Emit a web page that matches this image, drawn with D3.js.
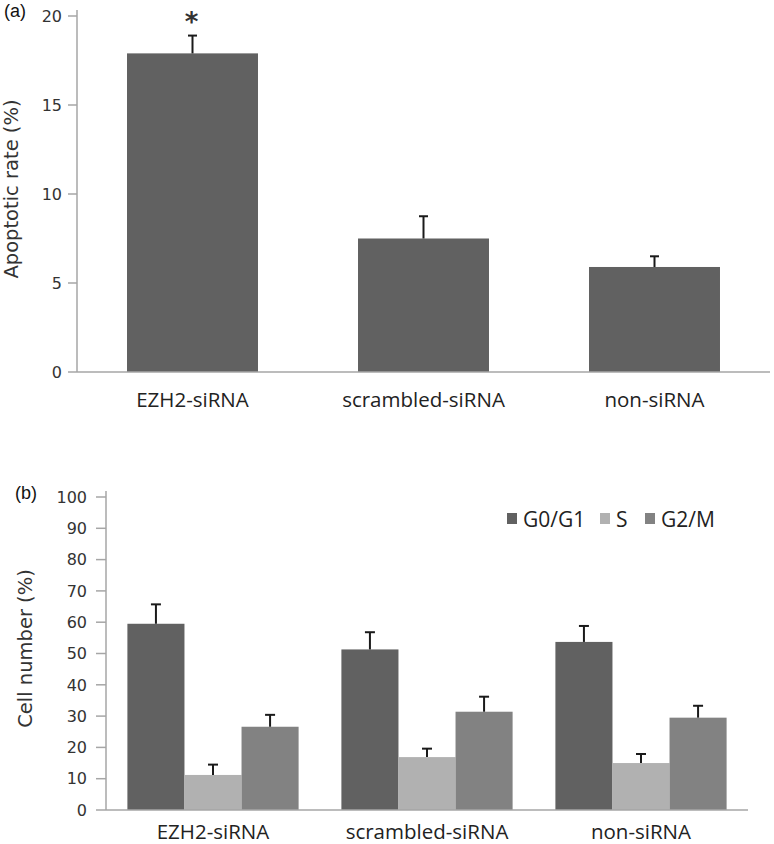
<!DOCTYPE html>
<html><head><meta charset="utf-8">
<script src="https://cdn.jsdelivr.net/npm/d3@7"></script>
<style>body{margin:0;background:#fff}svg{display:block}</style>
</head><body>
<svg id="c" width="774" height="844"></svg>
<script>
// ---- Data ----
const categories = ["EZH2-siRNA", "scrambled-siRNA", "non-siRNA"];
// Panel (a)
const apoptoticRate = [17.9, 7.5, 5.9];
const apoptoticErr  = [1.0, 1.25, 0.6];
const aTicks = [0, 5, 10, 15, 20];
// Panel (b)
const phases = ["G0/G1", "S", "G2/M"];
const g0g1 = [59.5, 51.3, 53.7];
const sPhase = [11.2, 16.9, 15.0];
const g2m = [26.6, 31.4, 29.5];
const g0g1Err = [6.2, 5.5, 5.1];
const sErr = [3.3, 2.7, 2.9];
const g2mErr = [3.8, 4.8, 3.8];
const bTicks = [0,10,20,30,40,50,60,70,80,90,100];

const phaseColors = ["#616161", "#b1b1b1", "#828282"];
const axisColor = "#a6a6a6";
const tickFont = "DejaVu Sans, Verdana, sans-serif";
const labelFont = "Open Sans, Noto Sans, sans-serif";

const svg = d3.select("#c");

// ================= Panel (a) =================
{
  const x0 = 77, x1 = 770, yb = 372, yt = 16;
  const x = d3.scaleBand().domain(categories).range([x0, x1]).paddingInner(0.433).paddingOuter(0.2165);
  const y = d3.scaleLinear().domain([0, 20]).range([yb, yt]);
  const g = svg.append("g");
  g.append("line").attr("x1", x0).attr("x2", x0).attr("y1", yt - 6).attr("y2", yb).attr("stroke", axisColor).attr("stroke-width", 1.5);
  g.selectAll(".yt").data(aTicks).join("line").attr("x1", x0 - 9).attr("x2", x0).attr("y1", d => y(d)).attr("y2", d => y(d)).attr("stroke", axisColor).attr("stroke-width", 1.5);
  g.selectAll(".yl").data(aTicks).join("text").attr("x", x0 - 15).attr("y", d => y(d)).attr("dy", "0.36em")
    .attr("text-anchor", "end").attr("font-family", tickFont).attr("font-size", 16).attr("fill", "#333").text(d => d);
  g.selectAll(".bar").data(apoptoticRate).join("rect")
    .attr("x", (d, i) => x(categories[i])).attr("width", x.bandwidth())
    .attr("y", d => y(d)).attr("height", d => yb - y(d)).attr("fill", "#616161");
  const cx = i => x(categories[i]) + x.bandwidth() / 2;
  g.selectAll(".ev").data(apoptoticRate).join("line").attr("x1", (d, i) => cx(i)).attr("x2", (d, i) => cx(i))
    .attr("y1", d => y(d)).attr("y2", (d, i) => y(d + apoptoticErr[i])).attr("stroke", "#1a1a1a").attr("stroke-width", 2);
  g.selectAll(".ec").data(apoptoticRate).join("line").attr("x1", (d, i) => cx(i) - 4.5).attr("x2", (d, i) => cx(i) + 4.5)
    .attr("y1", (d, i) => y(d + apoptoticErr[i])).attr("y2", (d, i) => y(d + apoptoticErr[i])).attr("stroke", "#1a1a1a").attr("stroke-width", 2);
  g.append("line").attr("x1", x0).attr("x2", x1).attr("y1", yb).attr("y2", yb).attr("stroke", axisColor).attr("stroke-width", 1.5);
  g.selectAll(".xl").data(categories).join("text").attr("x", d => x(d) + x.bandwidth() / 2).attr("y", 407)
    .attr("text-anchor", "middle").attr("font-family", labelFont).attr("font-size", 20.5).attr("fill", "#222").text(d => d);
  g.append("text").attr("x", cx(0) - 1).attr("y", 31).attr("text-anchor", "middle").attr("font-family", tickFont)
    .attr("font-size", 26).attr("font-weight", "bold").attr("fill", "#333").text("*");
  g.append("text").attr("transform", `translate(18,${(yb + yt) / 2 - 5}) rotate(-90)`).attr("text-anchor", "middle")
    .attr("font-family", tickFont).attr("font-size", 19.5).attr("fill", "#333").text("Apoptotic rate (%)");
  g.append("text").attr("x", 4).attr("y", 17).attr("font-family", "Liberation Sans, Arial, sans-serif").attr("font-size", 18).attr("fill", "#111").text("(a)");
}

// ================= Panel (b) =================
{
  const x0 = 106, x1 = 748, yb = 810, yt = 497;
  const x = d3.scaleBand().domain(categories).range([x0, x1]).paddingInner(0.2).paddingOuter(0.1);
  const xs = d3.scaleBand().domain(phases).range([0, x.bandwidth()]);
  const y = d3.scaleLinear().domain([0, 100]).range([yb, yt]);
  const g = svg.append("g");
  g.append("line").attr("x1", x0).attr("x2", x0).attr("y1", yt - 6).attr("y2", yb).attr("stroke", axisColor).attr("stroke-width", 1.5);
  g.selectAll(".yt").data(bTicks).join("line").attr("x1", x0 - 10).attr("x2", x0).attr("y1", d => y(d)).attr("y2", d => y(d)).attr("stroke", axisColor).attr("stroke-width", 1.5);
  g.selectAll(".yl").data(bTicks).join("text").attr("x", x0 - 19).attr("y", d => y(d)).attr("dy", "0.36em")
    .attr("text-anchor", "end").attr("font-family", tickFont).attr("font-size", 16).attr("fill", "#333").text(d => d);

  const series = [g0g1, sPhase, g2m];
  const errs = [g0g1Err, sErr, g2mErr];
  const rows = [];
  categories.forEach((c, i) => phases.forEach((p, j) => rows.push({c, p, j, v: series[j][i], e: errs[j][i]})));
  g.selectAll(".bar").data(rows).join("rect")
    .attr("x", d => x(d.c) + xs(d.p)).attr("width", xs.bandwidth())
    .attr("y", d => y(d.v)).attr("height", d => yb - y(d.v)).attr("fill", d => phaseColors[d.j]);
  const cx = d => x(d.c) + xs(d.p) + xs.bandwidth() / 2;
  g.selectAll(".ev").data(rows).join("line").attr("x1", cx).attr("x2", cx)
    .attr("y1", d => y(d.v)).attr("y2", d => y(d.v + d.e)).attr("stroke", "#1a1a1a").attr("stroke-width", 2);
  g.selectAll(".ec").data(rows).join("line").attr("x1", d => cx(d) - 5).attr("x2", d => cx(d) + 5)
    .attr("y1", d => y(d.v + d.e)).attr("y2", d => y(d.v + d.e)).attr("stroke", "#1a1a1a").attr("stroke-width", 2);
  g.append("line").attr("x1", x0).attr("x2", x1).attr("y1", yb).attr("y2", yb).attr("stroke", axisColor).attr("stroke-width", 1.5);
  g.selectAll(".xl").data(categories).join("text").attr("x", d => x(d) + x.bandwidth() / 2).attr("y", 839)
    .attr("text-anchor", "middle").attr("font-family", labelFont).attr("font-size", 20.5).attr("fill", "#222").text(d => d);
  g.append("text").attr("transform", `translate(32,${(yb + yt) / 2 - 5}) rotate(-90)`).attr("text-anchor", "middle")
    .attr("font-family", tickFont).attr("font-size", 19.5).attr("fill", "#333").text("Cell number (%)");
  g.append("text").attr("x", 15).attr("y", 499).attr("font-family", "Liberation Sans, Arial, sans-serif").attr("font-size", 18).attr("fill", "#111").text("(b)");
  const legX = [507, 600, 645];
  const lg = g.selectAll(".lg").data(phases).join("g").attr("transform", (d, i) => `translate(${legX[i]},513)`);
  lg.append("rect").attr("width", 10).attr("height", 11).attr("fill", (d, i) => phaseColors[i]);
  lg.append("text").attr("x", 16).attr("y", 14).attr("font-family", labelFont).attr("font-size", 21).attr("fill", "#222").text(d => d);
}
</script>
</body></html>
